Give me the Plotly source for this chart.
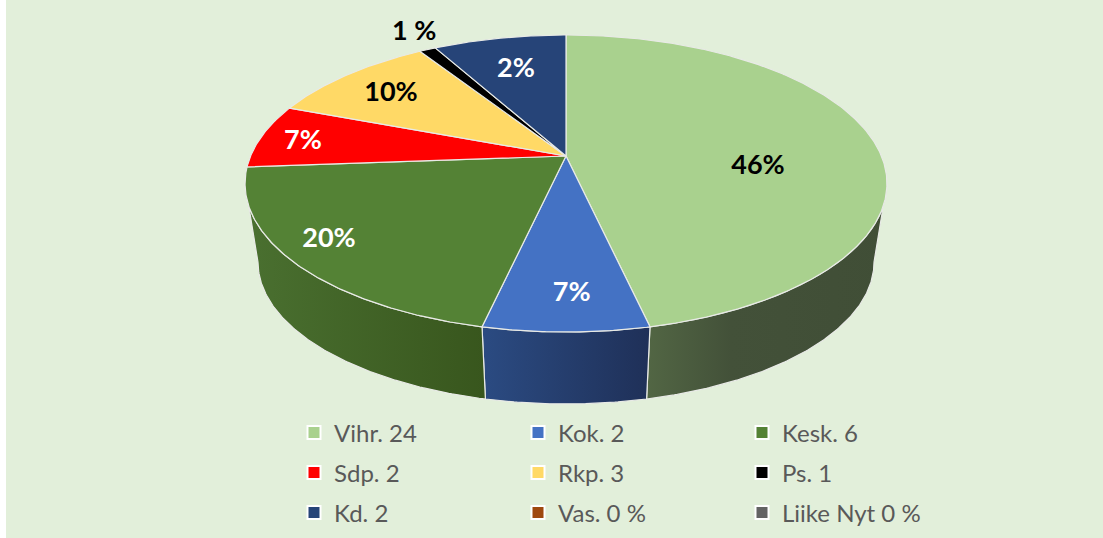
import math
import plotly.graph_objects as go

# ---- data ----
parties = ["Vihr.", "Kok.", "Kesk.", "Sdp.", "Rkp.", "Ps.", "Kd."]
shares = [46.5, 7.0, 20.3, 7.0, 10.2, 1.0, 8.0]
slice_labels = ["46%", "7%", "20%", "7%", "10%", "1 %", "2%"]
legend_rows = [
    ["Vihr. 24", "Kok. 2", "Kesk. 6"],
    ["Sdp. 2", "Rkp. 3", "Ps. 1"],
    ["Kd. 2", "Vas. 0 %", "Liike Nyt 0 %"],
]

# ---- styles ----
colors = ["#A9D18E", "#4472C4", "#548235", "#FF0000", "#FFD966", "#000000", "#264478"]
wall_gradients = {
    "Vihr.": [[0, "#526644"], [0.35, "#435139"], [1, "#404E36"]],
    "Kok.": [[0, "#2B4B82"], [1, "#1F3058"]],
    "Kesk.": [[0, "#4A7030"], [1, "#38561D"]],
}
legend_colors = [
    ["#A9D18E", "#4472C4", "#548235"],
    ["#FF0000", "#FFD966", "#000000"],
    ["#264478", "#9E480E", "#636363"],
]
label_colors = ["black", "white", "white", "white", "black", "black", "white"]
label_radius = [0.605, 0.807, 0.854, 0.859, 0.776, 1.188, 0.715]
label_angle = [95.9, 178.9, 232.7, 277.6, 308.8, 331.1, 345.5]
LABEL_NUDGE = 2
BG = "#E2EFDA"
EDGE = "#E8EAE6"
FONT = "Lato"

# ---- perspective disc geometry ----
CX = 566.0
PERSP = 55.0 / 297.0
TOP = dict(d=315.4, a=35 * PERSP - 121, b=156.0)
BOT = dict(d=302.7, a=120 * PERSP - 115.7, b=235.7)


def project(r, deg, face=TOP):
    t = math.radians(deg)
    u, w = r * math.sin(t), r * math.cos(t)
    den = 1 + PERSP * w
    return CX + face["d"] * u / den, (face["a"] * w + face["b"]) / den


def arc(d0, d1, face=TOP):
    n = max(2, int(abs(d1 - d0) * 2) + 1)
    pts = [project(1, d0 + (d1 - d0) * i / (n - 1), face) for i in range(n)]
    return [p[0] for p in pts], [p[1] for p in pts]


total = sum(shares)
bounds = [0.0]
for s in shares:
    bounds.append(bounds[-1] + s / total * 360)

fig = go.Figure()

# side walls (only the part facing the viewer)
front0 = math.degrees(math.acos(-PERSP))
front1 = 360 - front0
for i, name in enumerate(parties):
    d0, d1 = max(bounds[i], front0), min(bounds[i + 1], front1)
    if d1 <= d0:
        continue
    tx, ty = arc(d0, d1, TOP)
    bx, by = arc(d1, d0, BOT)
    fig.add_trace(go.Scatter(
        x=tx + bx + tx[:1], y=ty + by + ty[:1], mode="lines", fill="toself",
        line=dict(color=EDGE, width=1.2), hoverinfo="skip", showlegend=False,
        fillgradient=dict(type="horizontal", colorscale=wall_gradients[name]),
    ))

# top face
for i, name in enumerate(parties):
    ax, ay = project(0, 0)
    rx, ry = arc(bounds[i], bounds[i + 1], TOP)
    fig.add_trace(go.Scatter(
        x=[ax] + rx + [ax], y=[ay] + ry + [ay], mode="lines", fill="toself",
        fillcolor=colors[i], line=dict(color=EDGE, width=1.2),
        name=name, hoverinfo="name", showlegend=False,
    ))

# slice labels
lp = [project(r, a) for r, a in zip(label_radius, label_angle)]
fig.add_trace(go.Scatter(
    x=[p[0] for p in lp], y=[p[1] + LABEL_NUDGE for p in lp], mode="text", text=slice_labels,
    textposition="middle center", hoverinfo="skip", showlegend=False,
    textfont=dict(family=FONT, size=27, color=label_colors, weight="bold"),
))

# legend: one native legend per row
legend_keys = ["legend", "legend2", "legend3"]
row_y = [433, 473, 513]
layout_legends = {}
for key, labels, cols, y in zip(legend_keys, legend_rows, legend_colors, row_y):
    for text, col in zip(labels, cols):
        fig.add_trace(go.Scatter(
            x=[None], y=[None], mode="markers", name=text, legend=key,
            marker=dict(symbol="square", size=13, color=col,
                        line=dict(color="white", width=2)),
        ))
    layout_legends[key] = dict(
        orientation="h", x=294 / 1103, xanchor="left", y=1 - y / 538, yanchor="middle",
        entrywidth=179, entrywidthmode="pixels", itemwidth=30, bgcolor="rgba(0,0,0,0)",
        font=dict(family=FONT, size=24, color="#595959"), traceorder="normal",
    )

fig.update_layout(
    width=1103, height=538, margin=dict(l=0, r=0, t=0, b=0),
    paper_bgcolor="white", plot_bgcolor=BG,
    xaxis=dict(domain=[6 / 1103, 1], range=[6, 1103], visible=False),
    yaxis=dict(range=[538, 0], visible=False),
    **layout_legends,
)
fig.write_html("out.html", config=dict(displayModeBar=False),
               post_script="document.body.style.margin='0';document.body.style.overflow='hidden';")
